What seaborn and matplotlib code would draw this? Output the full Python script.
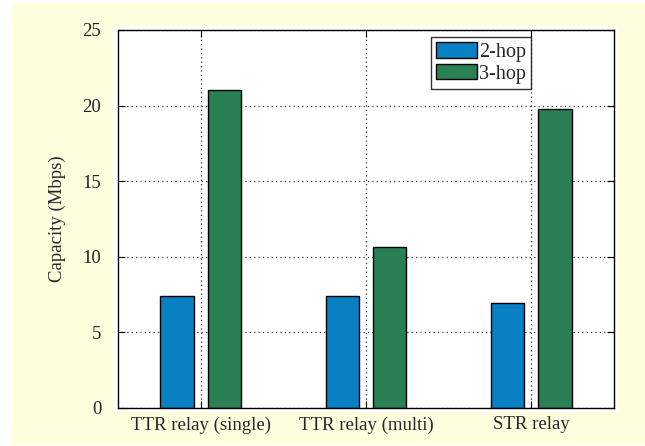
import matplotlib
matplotlib.use("Agg")
import matplotlib.pyplot as plt
from matplotlib.patches import Rectangle
import seaborn as sns
import pandas as pd

# data
schemes = ["TTR relay (single)", "TTR relay (multi)", "STR relay"]
hops = ["2-hop", "3-hop"]
cap_2hop = [7.4, 7.4, 6.95]
cap_3hop = [21.0, 10.65, 19.75]
yticks = [0, 5, 10, 15, 20, 25]

df = pd.DataFrame({
    "scheme": schemes * 2,
    "hop": [hops[0]] * 3 + [hops[1]] * 3,
    "capacity": cap_2hop + cap_3hop,
})

sns.set_style("ticks")
plt.rcParams["font.family"] = ["Liberation Serif", "DejaVu Serif"]
plt.rcParams["xtick.direction"] = "in"
plt.rcParams["ytick.direction"] = "in"

W, H = 645, 446
fig = plt.figure(figsize=(W / 100, H / 100), dpi=100, facecolor="white")
# yellow page + white plot area, like the exported MATLAB figure
fig.patches.append(Rectangle((12 / W, 1 / H), 1 - 12 / W, 442 / H,
                             transform=fig.transFigure, facecolor="#ffffe0",
                             edgecolor="none", zorder=-3))
fig.patches.append(Rectangle((114 / W, 1 - 412 / H), 504 / W, 386 / H,
                             transform=fig.transFigure, facecolor="white",
                             edgecolor="none", zorder=-2))

ax = fig.add_axes([118 / W, 1 - 408 / H, 496 / W, 378 / H])
sns.barplot(data=df, x="scheme", y="capacity", hue="hop",
            palette=["#0a80c4", "#2a7f55"], width=0.572, gap=0.3,
            edgecolor="black", linewidth=1, saturation=1, ax=ax)

ax.set_xlim(-0.5, 2.5)
ax.set_ylim(0, 25)
ax.set_yticks(yticks)
ax.set_xlabel("")
ax.set_ylabel("Capacity (Mbps)", fontsize=13.5, labelpad=12)
ax.tick_params(axis="both", labelsize=13.5, length=5, width=0.8,
               top=True, right=True, pad=12, color="black")
ax.tick_params(axis="x", pad=6)
ax.grid(True, linestyle=(0, (1, 2.5)), color="#333333", linewidth=0.9)
ax.set_axisbelow(True)
for s in ax.spines.values():
    s.set_visible(True)
    s.set_linewidth(1)
    s.set_color("black")

leg = ax.legend(loc="upper right", bbox_to_anchor=(0.833, 0.981),
                fontsize=14.5, frameon=True, fancybox=False, edgecolor="black",
                handlelength=2.05, handleheight=0.8, handletextpad=0.1,
                labelspacing=0.1, borderpad=0.25, borderaxespad=0)
leg.get_frame().set_linewidth(1)
leg.set_title(None)

fig.savefig("out.png", dpi=100, facecolor="white")
